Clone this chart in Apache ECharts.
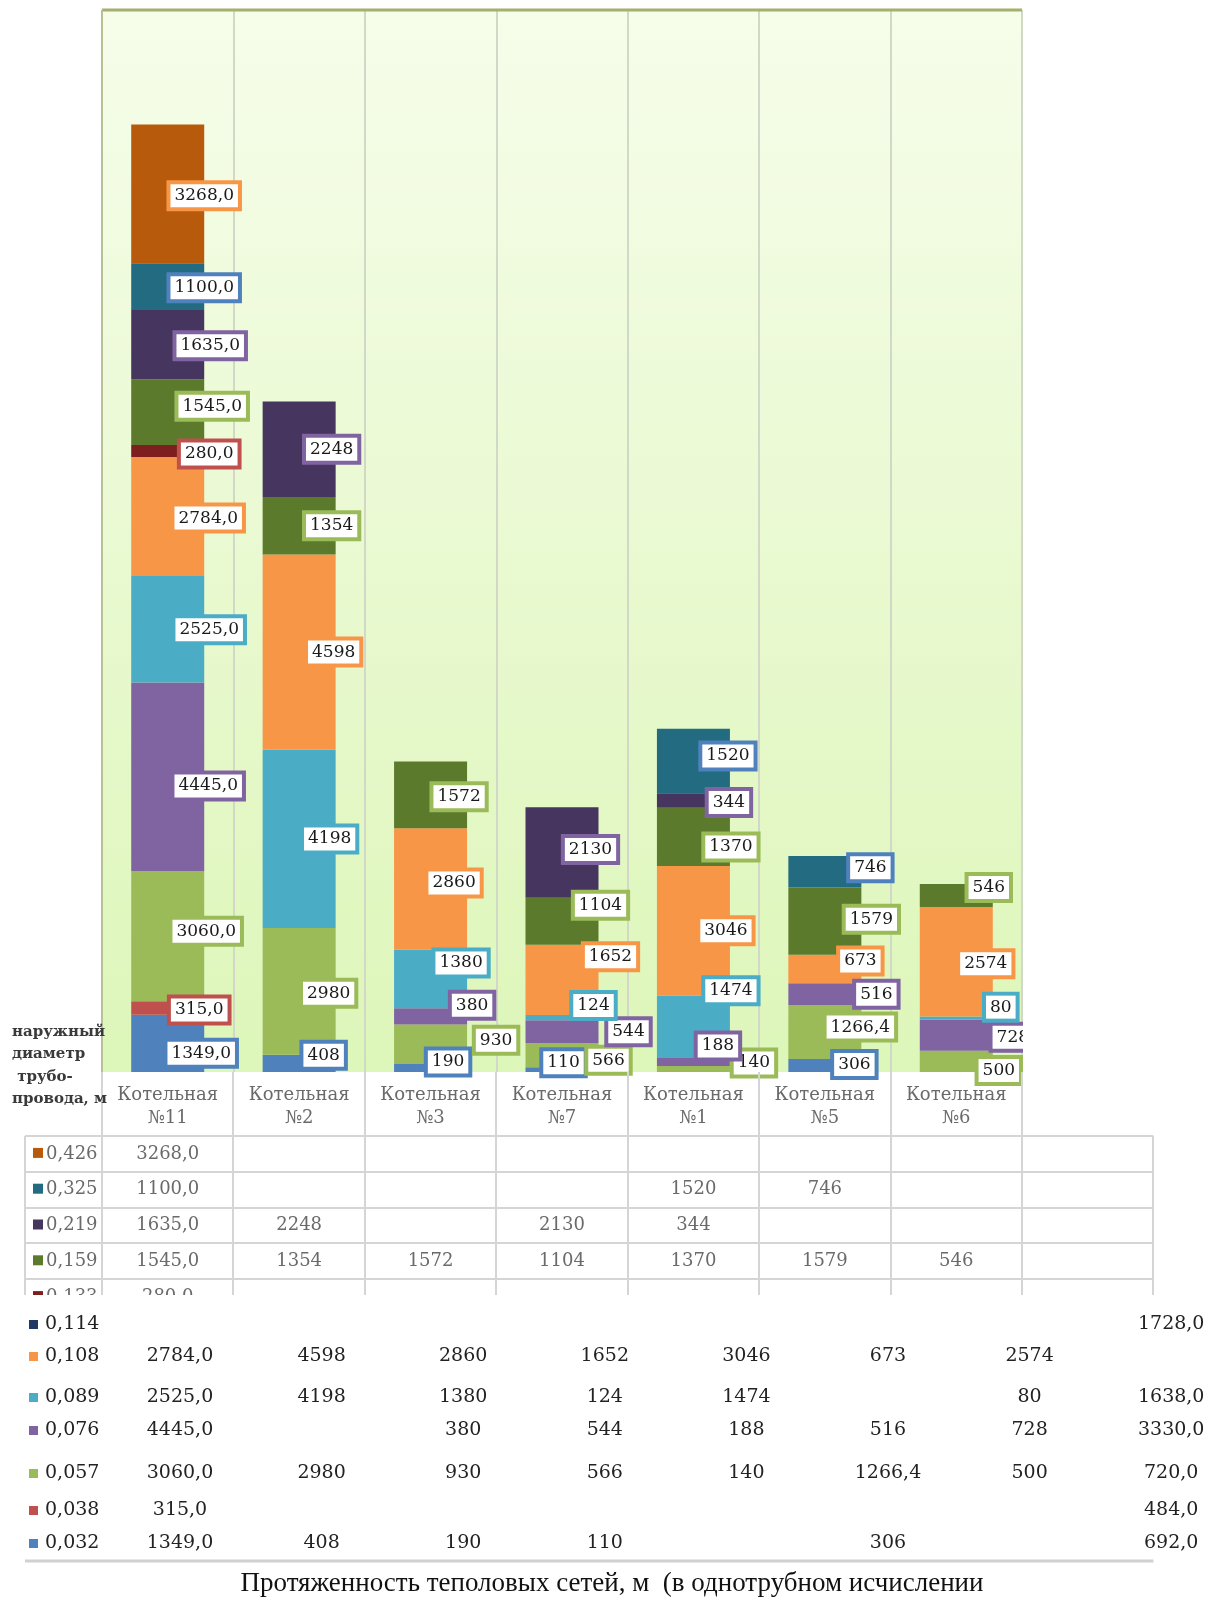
<!DOCTYPE html>
<html>
<head>
<meta charset="utf-8">
<title>Протяженность тепловых сетей</title>
<script src="https://cdn.jsdelivr.net/npm/echarts@6/dist/echarts.min.js"></script>
<style>
  html, body { margin: 0; padding: 0; background: #ffffff; }
  #wrap { position: relative; width: 1211px; height: 1597px; }
  #chart { width: 1211px; height: 1597px; }
  /* blank margin to the right of the plot */
  #margin { position: absolute; left: 1023px; top: 0; width: 188px; height: 1135px; background: #ffffff; }
</style>
</head>
<body>
<div id="wrap">
  <div id="chart"></div>
  <div id="margin"></div>
</div>
<script>
// Boiler houses (chart columns); the table has one more, unnamed column
const categories = ['Котельная\n№11', 'Котельная\n№2', 'Котельная\n№3', 'Котельная\n№7',
                    'Котельная\n№1', 'Котельная\n№5', 'Котельная\n№6'];
const tableColumns = 8;
// Columns printed with one decimal place
const decimals = [1, 0, 0, 0, 0, 0, 0, 1];

// Pipe outer diameters, m (table order, top to bottom)
const diameters = ['0,426', '0,325', '0,219', '0,159', '0,133', '0,114',
                   '0,108', '0,089', '0,076', '0,057', '0,038', '0,032'];

// Network length, m, per diameter and column
const d426 = [3268, null, null, null, null, null, null, null];
const d325 = [1100, null, null, null, 1520, 746, null, null];
const d219 = [1635, 2248, null, 2130, 344, null, null, null];
const d159 = [1545, 1354, 1572, 1104, 1370, 1579, 546, null];
const d133 = [280, null, null, null, null, null, null, null];
const d114 = [null, null, null, null, null, null, null, 1728];
const d108 = [2784, 4598, 2860, 1652, 3046, 673, 2574, null];
const d089 = [2525, 4198, 1380, 124, 1474, null, 80, 1638];
const d076 = [4445, null, 380, 544, 188, 516, 728, 3330];
const d057 = [3060, 2980, 930, 566, 140, 1266.4, 500, 720];
const d038 = [315, null, null, null, null, null, null, 484];
const d032 = [1349, 408, 190, 110, null, 306, null, 692];

const rows = [d426, d325, d219, d159, d133, d114, d108, d089, d076, d057, d038, d032];

// Styling
const barColors = ['#B75A0B', '#226B80', '#46355F', '#5B7A2C', '#7E1E1E', '#1F3864',
                   '#F79646', '#4BACC6', '#8064A2', '#9BBB59', '#C0504D', '#4F81BD'];
const labelBorders = ['#F79646', '#4F81BD', '#8064A2', '#9BBB59', '#C0504D', '#4F81BD',
                      '#F79646', '#4BACC6', '#8064A2', '#9BBB59', '#C0504D', '#4F81BD'];

// Label placement tweaks [dx, dy] relative to the right edge / middle of a segment
const labelNudge = {
  '0,426|0': [0, 2], '0,325|0': [0, 1], '0,219|0': [6, 1], '0,159|0': [8, -6], '0,133|0': [5, 3],
  '0,108|0': [4, 2], '0,089|0': [5, 1], '0,076|0': [4, 9], '0,057|0': [2, -5], '0,038|0': [-5, 2], '0,032|0': [-3, 10],
  '0,219|1': [-4, 0], '0,159|1': [-4, 0], '0,108|1': [-2, 0], '0,089|1': [-6, 0], '0,057|1': [-7, 2], '0,032|1': [-12, -8],
  '0,159|2': [-8, 2], '0,108|2': [-13, -6], '0,089|2': [-6, -16], '0,076|2': [5, -11], '0,057|2': [29, -4], '0,032|2': [-19, -6],
  '0,219|3': [-8, -3], '0,159|3': [2, -16], '0,108|3': [12, -23], '0,089|3': [-5, -12], '0,076|3': [30, 0], '0,057|3': [10, 5], '0,032|3': [-35, -7],
  '0,325|4': [-2, -5], '0,219|4': [-1, 2], '0,159|4': [1, 10], '0,108|4': [-4, 0], '0,089|4': [1, -36], '0,076|4': [-12, -16], '0,057|4': [24, -6],
  '0,325|5': [9, -4], '0,159|5': [10, -2], '0,108|5': [-1, -8], '0,076|5': [15, 0], '0,057|5': [-1, -5], '0,032|5': [-7, -1],
  '0,159|6': [-4, -8], '0,108|6': [-7, 2], '0,089|6': [8, -11], '0,076|6': [20, 2], '0,057|6': [6, 9]
};

const SERIF = '"DejaVu Serif", serif';

function fmt(v, col) {
  if (v == null) return '';
  const s = (decimals[col] || v % 1 !== 0) ? v.toFixed(1) : String(v);
  return s.replace('.', ',');
}

// Plot frame
const plotLeft = 102, plotRight = 1022, plotTop = 10, plotBottom = 1072;
const colW = (plotRight - plotLeft) / categories.length;

// Stacked series, smallest diameter at the bottom
const series = [];
for (let i = rows.length - 1; i >= 0; i--) {
  const name = diameters[i];
  const data = rows[i].slice(0, categories.length).map((v, col) => {
    if (v == null) return null;
    const n = labelNudge[name + '|' + col] || [4, 0];
    return { value: v, label: { offset: n } };
  });
  series.push({
    name: name,
    type: 'bar',
    stack: 'total',
    barWidth: 73,
    data: data,
    itemStyle: { color: barColors[i] },
    label: {
      show: true,
      position: ['100%', '50%'],
      align: 'center',
      verticalAlign: 'middle',
      fontFamily: SERIF,
      fontSize: 17,
      lineHeight: 20,
      color: '#1a1a1a',
      backgroundColor: '#ffffff',
      borderColor: labelBorders[i],
      borderWidth: 4,
      padding: [2, 4, 1, 4],
      formatter: p => fmt(p.value, p.dataIndex)
    },
    emphasis: { disabled: true }
  });
}

// Data table drawn under the plot
const g = [];
const lineGrey = '#d5d5d5';
const tableLeft = 25, tableRight = plotLeft + colW * tableColumns;
const rowTop = 1136, rowH = 35.8, upperRows = 5, cutY = 1295;

// Plot frame lines
g.push({ type: 'line', z: 101, shape: { x1: plotLeft, y1: plotTop, x2: plotRight, y2: plotTop },
         style: { stroke: '#a4b06c', lineWidth: 3 } });
g.push({ type: 'line', z: 101, shape: { x1: plotLeft, y1: plotTop, x2: plotLeft, y2: plotBottom },
         style: { stroke: '#b8c196', lineWidth: 2 } });

// Column lines through header and upper rows
for (let k = 0; k <= tableColumns; k++) {
  const x = Math.round(plotLeft + colW * k);
  const y1 = k <= categories.length ? plotBottom : rowTop;
  g.push({ type: 'line', z: 101, shape: { x1: x, y1: y1, x2: x, y2: cutY }, style: { stroke: lineGrey, lineWidth: 2 } });
}
g.push({ type: 'line', z: 101, shape: { x1: tableLeft, y1: rowTop, x2: tableLeft, y2: cutY }, style: { stroke: lineGrey, lineWidth: 2 } });
for (let r = 0; r <= upperRows; r++) {
  const y = Math.round(rowTop + rowH * r);
  g.push({ type: 'line', z: 101, shape: { x1: tableLeft, y1: y, x2: tableRight, y2: y }, style: { stroke: lineGrey, lineWidth: 2 } });
}
for (let r = 0; r < upperRows; r++) {
  const yc = rowTop + rowH * (r + 0.5);
  g.push({ type: 'rect', z: 102, shape: { x: 33, y: yc - 6, width: 10, height: 10 }, style: { fill: barColors[r] } });
  g.push({ type: 'text', z: 102, style: { x: 46, y: yc, text: diameters[r], fontFamily: SERIF, fontSize: 18,
           fill: '#6a6a6a', verticalAlign: 'middle', align: 'left' } });
  rows[r].forEach((v, col) => {
    if (v == null) return;
    g.push({ type: 'text', z: 102, style: { x: plotLeft + colW * (col + 0.5), y: yc, text: fmt(v, col),
             fontFamily: SERIF, fontSize: 18, fill: '#6a6a6a', align: 'center', verticalAlign: 'middle' } });
  });
}

// Lower rows
g.push({ type: 'rect', z: 103, shape: { x: 22, y: cutY, width: 1211 - 22, height: 1597 - cutY }, style: { fill: '#ffffff' } });
const lowerRowY = [1324, 1356, 1397, 1430, 1473, 1510, 1543];
const lowerColX0 = 180, lowerColStep = 141.6;
for (let r = upperRows; r < rows.length; r++) {
  const yc = lowerRowY[r - upperRows];
  g.push({ type: 'rect', z: 104, shape: { x: 29, y: yc - 4, width: 9, height: 9 }, style: { fill: barColors[r] } });
  g.push({ type: 'text', z: 104, style: { x: 45, y: yc, text: diameters[r], fontFamily: SERIF, fontSize: 19,
           fill: '#222222', verticalAlign: 'middle', align: 'left' } });
  rows[r].forEach((v, col) => {
    if (v == null) return;
    g.push({ type: 'text', z: 104, style: { x: lowerColX0 + lowerColStep * col, y: yc, text: fmt(v, col),
             fontFamily: SERIF, fontSize: 19, fill: '#222222', align: 'center', verticalAlign: 'middle' } });
  });
}
g.push({ type: 'line', z: 104, shape: { x1: tableLeft, y1: 1561, x2: tableRight, y2: 1561 }, style: { stroke: '#d0d0d0', lineWidth: 3 } });

// Row-header caption
['наружный', 'диаметр', ' трубо-', 'провода, м'].forEach((t, i) => {
  g.push({ type: 'text', z: 102, style: { x: 12, y: 1032 + 22.4 * i, text: t, fontFamily: SERIF, fontSize: 15,
           fontWeight: 'bold', fill: '#3a3a3a', verticalAlign: 'middle', align: 'left' } });
});

// Caption under the table
g.push({ type: 'text', z: 105, style: { x: 612, y: 1584, text: 'Протяженность теполовых сетей, м  (в однотрубном исчислении',
         fontFamily: '"Liberation Serif", serif', fontSize: 27, fill: '#111111', align: 'center', verticalAlign: 'middle' } });

const chart = echarts.init(document.getElementById('chart'), null, { renderer: 'canvas' });
chart.setOption({
  animation: false,
  backgroundColor: '#ffffff',
  grid: {
    left: plotLeft, right: 1211 - plotRight, top: plotTop, bottom: 1597 - plotBottom,
    show: true, borderWidth: 0,
    backgroundColor: new echarts.graphic.LinearGradient(0, 0, 0, 1, [
      { offset: 0, color: '#f6fdea' },
      { offset: 1, color: '#ddf6b9' }
    ])
  },
  xAxis: {
    type: 'category',
    data: categories,
    axisLine: { show: false },
    axisTick: { show: false },
    splitLine: { show: true, lineStyle: { color: '#d2d8c8', width: 2 } },
    axisLabel: { margin: 12, fontFamily: SERIF, fontSize: 18, lineHeight: 23, color: '#6a6a6a', interval: 0 }
  },
  yAxis: {
    type: 'value', min: 0, max: 25000, interval: 5000,
    show: false, splitLine: { show: false }
  },
  series: series,
  graphic: g
});
</script>
</body>
</html>
